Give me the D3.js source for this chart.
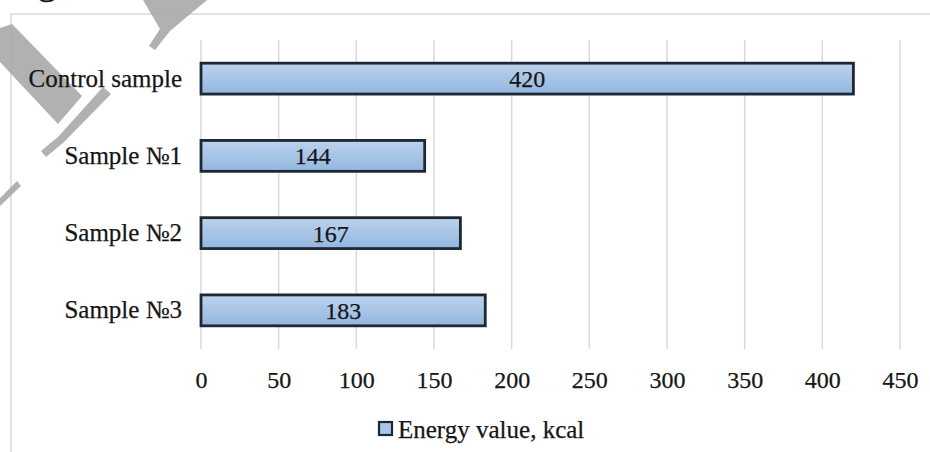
<!DOCTYPE html>
<html>
<head>
<meta charset="utf-8">
<script src="https://cdn.jsdelivr.net/npm/d3@7"></script>
<style>
  html, body { margin: 0; padding: 0; background: #fff; }
  svg { display: block; }
  text { font-family: "Liberation Serif", "Times New Roman", serif; fill: #161616; stroke: #161616; stroke-width: 0.25px; }
</style>
</head>
<body>
<svg id="chart" width="930" height="452"></svg>
<script>
// Energy value of each sample, kcal
const categories = ["Control sample", "Sample №1", "Sample №2", "Sample №3"];
const energyValues = [420, 144, 167, 183];
const xTicks = [0, 50, 100, 150, 200, 250, 300, 350, 400, 450];
const seriesName = "Energy value, kcal";

const svg = d3.select("#chart");
const W = 930, H = 452;

const x = d3.scaleLinear().domain([0, 450]).range([201, 900]);
const y = d3.scaleBand().domain(categories).range([40, 349]).paddingInner(0.6).paddingOuter(0.3);

// Bar gradient
const defs = svg.append("defs");
const grad = defs.append("linearGradient").attr("id", "barFill")
  .attr("x1", 0).attr("y1", 0).attr("x2", 0).attr("y2", 1);
grad.append("stop").attr("offset", "0%").attr("stop-color", "#bcd2ec");
grad.append("stop").attr("offset", "100%").attr("stop-color", "#93b7df");

// Chart frame
svg.append("rect").attr("x", 11).attr("y", 14).attr("width", W + 20).attr("height", H + 20)
  .attr("fill", "none").attr("stroke", "#d9d9d9").attr("stroke-width", 1.5);

// Page decoration behind the chart
const deco = svg.append("g").attr("fill", "#a9a9a9").attr("opacity", 0.9);
deco.append("path").attr("d", "M143,0 L207,0 L170,31 L155,50 L149,46 L160,29 Z");
deco.append("path").attr("d", "M0,28 L12,24 L82,96 L58,124 L0,62 Z");
deco.append("path").attr("d", "M103,87 L111,94 L64,142 L46,157 L41,151 L58,137 Z");
deco.append("path").attr("d", "M0,198 L17,181 L21,186 L0,206 Z");

// Caption fragment running off the top edge
svg.append("text").attr("x", 37).attr("y", -7).attr("font-size", 40).text("g");

// Vertical gridlines
svg.append("g").selectAll("line").data(xTicks).join("line")
  .attr("x1", d => x(d)).attr("x2", d => x(d))
  .attr("y1", 40).attr("y2", 349)
  .attr("stroke", "#d9d9d9").attr("stroke-width", 1.5);

// X axis tick labels
const xAxis = svg.append("g").attr("transform", "translate(0,372)")
  .call(d3.axisBottom(x).tickValues(xTicks).tickSize(0).tickPadding(0).tickFormat(d3.format("d")));
xAxis.select(".domain").remove();
xAxis.selectAll("text").attr("font-size", 24)
  .attr("dy", "0.35em").attr("y", 8);

// Category labels
const yAxis = svg.append("g").attr("transform", "translate(182,0)")
  .call(d3.axisLeft(y).tickSize(0).tickPadding(0));
yAxis.select(".domain").remove();
yAxis.selectAll("text").attr("font-size", 25);

// Bars
const rows = categories.map((c, i) => ({ cat: c, val: energyValues[i] }));
svg.append("g").selectAll("rect").data(rows).join("rect")
  .attr("x", x(0)).attr("y", d => y(d.cat))
  .attr("width", d => x(d.val) - x(0)).attr("height", y.bandwidth())
  .attr("fill", "url(#barFill)").attr("stroke", "#1e2734").attr("stroke-width", 2.8);

// Value labels
svg.append("g").selectAll("text").data(rows).join("text")
  .attr("x", d => (x(0) + x(d.val)) / 2).attr("y", d => y(d.cat) + y.bandwidth() / 2)
  .attr("text-anchor", "middle").attr("dy", "0.35em").attr("font-size", 24)
  .text(d => d.val);

// Legend
const lg = svg.append("g").attr("transform", "translate(379,422)");
lg.append("rect").attr("x", 0).attr("y", 0).attr("width", 13).attr("height", 13)
  .attr("fill", "#a9c6e8").attr("stroke", "#1e2734").attr("stroke-width", 2.2);
lg.append("text").attr("x", 19).attr("y", 7).attr("dy", "0.35em").attr("font-size", 25).text(seriesName);
</script>
</body>
</html>
